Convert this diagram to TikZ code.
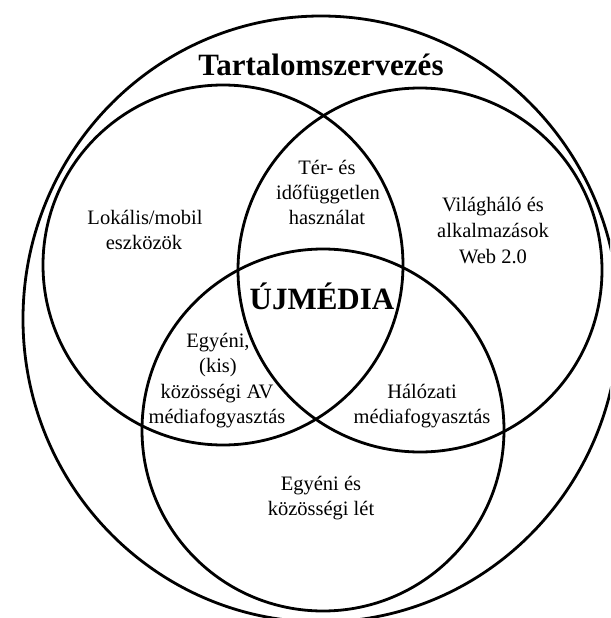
\documentclass[tikz,border=0pt]{standalone}
\usepackage{fontspec}
\setmainfont{Liberation Serif}
\begin{document}
\begin{tikzpicture}[x=1pt,y=-1pt,
  ring/.style={line width=2.8pt},
  lbl/.style={font=\fontsize{20.5}{25}\selectfont, inner sep=0pt, anchor=base},
  bigtxt/.style={font=\bfseries\fontsize{31}{36}\selectfont, inner sep=0pt, anchor=base}]
\useasboundingbox (0,0) rectangle (610,618);
\fill[white] (0,0) rectangle (610,618);
\begin{scope}
\clip (0,0) rectangle (610,618);
\draw[ring] (321,319) ellipse [x radius=298, y radius=303];
\draw[ring] (223,265) circle [radius=180];
\draw[ring] (420,270) circle [radius=182];
\draw[ring] (323,430) circle [radius=181];
\end{scope}
\node[bigtxt] (title) at (321,75) {Tartalomszervezés};
\node[bigtxt] (uj) at (322,309) {ÚJMÉDIA};
\node[lbl] (ter1) at (327,174) {Tér- és};
\node[lbl] (ter2) at (328,199) {időfüggetlen};
\node[lbl] (ter3) at (327,224) {használat};
\node[lbl] (lok1) at (145,224) {Lokális/mobil};
\node[lbl] (lok2) at (144,249) {eszközök};
\node[lbl] (vil1) at (493,211) {Világháló és};
\node[lbl] (vil2) at (493,237) {alkalmazások};
\node[lbl] (vil3) at (493,263) {Web 2.0};
\node[lbl] (egy1) at (218,347) {Egyéni,};
\node[lbl] (egy2) at (218,372) {(kis)};
\node[lbl] (egy3) at (217,398) {közösségi AV};
\node[lbl] (egy4) at (217,423) {médiafogyasztás};
\node[lbl] (hal1) at (422,398) {Hálózati};
\node[lbl] (hal2) at (422,423) {médiafogyasztás};
\node[lbl] (let1) at (321,490) {Egyéni és};
\node[lbl] (let2) at (321,515) {közösségi lét};
\end{tikzpicture}
\end{document}
